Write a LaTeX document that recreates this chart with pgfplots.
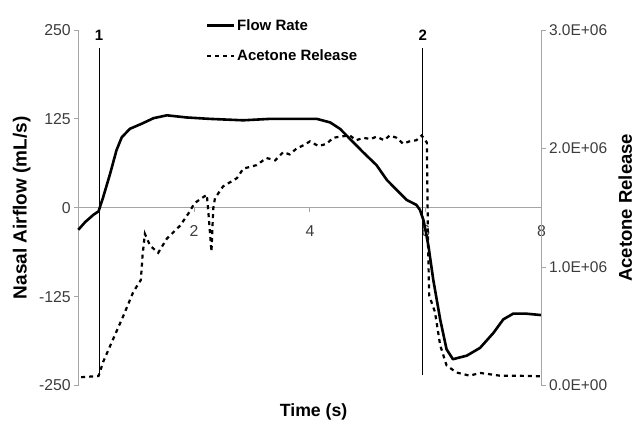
\documentclass[border=0pt]{standalone}
\usepackage{pgfplots}
\pgfplotsset{compat=1.18}
\usepackage{fontspec}
\setmainfont{Liberation Sans}
\definecolor{axgray}{RGB}{165,165,165}
\definecolor{txtgray}{RGB}{60,60,60}
\begin{document}
\begin{tikzpicture}
\useasboundingbox (0,0) rectangle (639pt,424pt);
\begin{axis}[
  at={(78.3pt,38.5pt)}, anchor=south west,
  scale only axis, width=463.2pt, height=355.5pt,
  xmin=0, xmax=8, ymin=-250, ymax=250,
  axis x line*=middle, axis y line*=left,
  xtick={0,2,4,6,8}, xticklabels={0,2,4,6,8},
  ytick={-250,-125,0,125,250}, yticklabels={-250,-125,0,125,250},
  axis line style={axgray, line width=0.9pt},
  every tick/.style={axgray, line width=0.9pt},
  major tick length=4pt,
  tick align=outside,
  tick label style={font=\fontsize{15.8}{18}\selectfont, text=txtgray},
  xticklabel style={yshift=-10pt},
  ylabel={\textbf{Nasal Airflow (mL/s)}},
  ylabel style={at={(axis description cs:-0.122,0.5)}, anchor=center, font=\fontsize{19}{22}\selectfont},
  xlabel={\textbf{Time (s)}},
  xlabel style={at={(axis description cs:0.508,-0.075)}, anchor=center, font=\fontsize{17.7}{21}\selectfont},
  clip=false,
]
\addplot[black, line width=0.8pt] coordinates {(0.36,225) (0.36,-237)};
\addplot[black, line width=0.8pt] coordinates {(5.95,225) (5.95,-235)};
\node[font=\bfseries\fontsize{15}{18}\selectfont] at (axis cs:0.36,243) {1};
\node[font=\bfseries\fontsize{15}{18}\selectfont] at (axis cs:5.95,243) {2};
\addplot[black, line width=2.6pt, line join=round] coordinates {
(0,-31) (0.12,-20) (0.26,-10) (0.35,-5) (0.43,15) (0.55,48) (0.66,81) (0.75,99)
(0.89,111) (1.09,118) (1.30,126) (1.53,130) (1.87,127) (2.27,125) (2.85,123)
(3.31,125) (3.54,125) (4.12,125) (4.35,120) (4.52,111) (4.69,97) (4.92,78)
(5.15,60) (5.33,39) (5.50,25) (5.67,11) (5.84,4) (5.90,-3) (5.96,-17) (6.00,-33)
(6.05,-55) (6.13,-101) (6.25,-157) (6.36,-199) (6.47,-213) (6.71,-208) (6.94,-197)
(7.17,-176) (7.34,-157) (7.51,-149) (7.74,-149) (8.0,-151)
};
\end{axis}
\begin{axis}[
  at={(78.3pt,38.5pt)}, anchor=south west,
  scale only axis, width=463.2pt, height=355.5pt,
  xmin=0, xmax=8, ymin=0, ymax=3000000,
  axis x line=none, axis y line*=right,
  ytick={0,1000000,2000000,3000000},
  yticklabels={0.0E+00,1.0E+06,2.0E+06,3.0E+06},
  scaled y ticks=false,
  axis line style={axgray, line width=0.9pt},
  every tick/.style={axgray, line width=0.9pt},
  major tick length=4pt,
  tick align=outside,
  tick label style={font=\fontsize{15.5}{18}\selectfont, text=txtgray},
  ylabel={\textbf{Acetone Release}},
  ylabel style={at={(axis description cs:1.181,0.5)}, anchor=center, font=\fontsize{18.5}{21}\selectfont},
  legend style={at={(axis description cs:0.269,1.04)}, anchor=north west, draw=none, fill=none,
    font=\bfseries\fontsize{15}{18}\selectfont, row sep=15pt,
    nodes={inner sep=1.5pt}},
  legend cell align=left,
  legend image code/.code={\draw[#1] (0pt,0pt) -- (27pt,0pt);},
  clip=false,
]
\addlegendimage{black, line width=2.6pt}
\addlegendentry{Flow Rate}
\addplot[black, line width=2.2pt, dash pattern=on 4pt off 4pt] coordinates {
(0.05,70000) (0.35,80000) (0.43,200000) (0.60,390000) (0.78,590000) (0.95,790000)
(1.08,890000) (1.11,1100000) (1.15,1280000) (1.24,1180000) (1.38,1120000)
(1.53,1240000) (1.76,1350000) (1.90,1450000) (2.01,1540000) (2.22,1610000)
(2.25,1440000) (2.30,1130000) (2.33,1490000) (2.36,1580000) (2.50,1680000)
(2.74,1750000) (2.85,1830000) (3.08,1860000) (3.25,1920000) (3.40,1900000)
(3.54,1970000) (3.65,1950000) (3.77,2000000) (3.90,2030000) (4.00,2060000)
(4.15,2020000) (4.29,2040000) (4.40,2090000) (4.52,2100000) (4.69,2110000)
(4.80,2070000) (4.92,2090000) (5.05,2080000) (5.15,2100000) (5.28,2070000)
(5.38,2110000) (5.50,2090000) (5.61,2040000) (5.72,2060000) (5.84,2070000)
(5.93,2110000) (6.02,2050000) (6.04,1200000) (6.06,760000) (6.16,620000)
(6.25,340000) (6.36,170000) (6.53,110000) (6.76,83000) (6.94,106000)
(7.28,83000) (7.52,83000) (8.0,78000)
};
\addlegendentry{Acetone Release}
\end{axis}
\end{tikzpicture}
\end{document}
